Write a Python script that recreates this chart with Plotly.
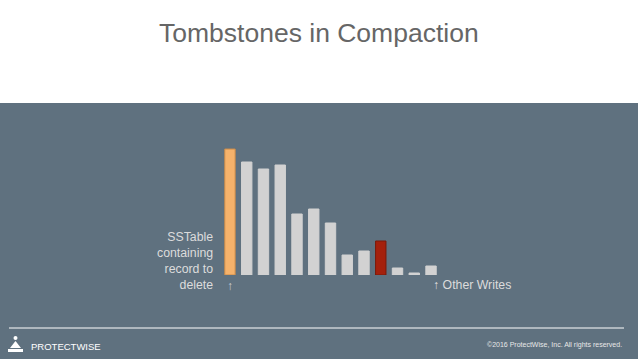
import plotly.graph_objects as go

# Data
categories = [f"SST{i+1}" for i in range(13)]
values = [126, 113, 106, 110, 61, 66, 52, 20, 24, 34, 7, 2, 9]
bar_colors = ["#f5b26b"] + ["#d2d2d2"] * 8 + ["#a4200c"] + ["#d2d2d2"] * 3
line_colors = ["#c98a4a"] + ["#d2d2d2"] * 8 + ["#7a1808"] + ["#d2d2d2"] * 3

W, H = 638, 359
SLATE = "#5f717f"

def py(px):
    return 1 - px / H

def pxx(px):
    return px / W

fig = go.Figure()
fig.add_trace(go.Bar(
    x=list(range(len(categories))), y=values,
    marker=dict(color=bar_colors, line=dict(color=line_colors, width=1)),
    width=0.62, hoverinfo="skip",
))

fig.update_layout(
    width=W, height=H,
    margin=dict(l=0, r=0, t=0, b=0),
    paper_bgcolor="white", plot_bgcolor="rgba(0,0,0,0)",
    showlegend=False,
    xaxis=dict(domain=[pxx(221.6), pxx(439.4)], range=[-0.5, 12.5],
               visible=False, fixedrange=True),
    yaxis=dict(domain=[py(275), py(145)], range=[0, 130],
               visible=False, fixedrange=True),
    font=dict(family="Liberation Sans, Arial, sans-serif"),
)

shapes = [
    dict(type="rect", xref="paper", yref="paper", x0=0, x1=1, y0=0, y1=py(103),
         fillcolor=SLATE, line=dict(width=0), layer="below"),
    dict(type="line", xref="paper", yref="paper", x0=pxx(9), x1=pxx(624),
         y0=py(328), y1=py(328), line=dict(color="white", width=1)),
    # logo icon approximation
    dict(type="circle", xref="paper", yref="paper", x0=pxx(13.5), x1=pxx(17.5),
         y0=py(340), y1=py(336), fillcolor="white", line=dict(width=0)),
    dict(type="path", xref="paper", yref="paper",
         path=f"M {pxx(10)} {py(348)} L {pxx(15.5)} {py(341)} L {pxx(21)} {py(348)} Z",
         fillcolor="white", line=dict(width=0)),
    dict(type="rect", xref="paper", yref="paper", x0=pxx(8), x1=pxx(23),
         y0=py(352), y1=py(349), fillcolor="white", line=dict(width=0)),
]
fig.update_layout(shapes=shapes)

annotations = [
    dict(text="Tombstones in Compaction", xref="paper", yref="paper",
         x=pxx(318.5), y=py(33), showarrow=False, xanchor="center", yanchor="middle",
         font=dict(size=26.5, color="#666666")),
    dict(text="SSTable<br>containing<br>record to<br>delete", xref="paper", yref="paper",
         x=pxx(215), y=py(294), showarrow=False, xanchor="right", yanchor="bottom",
         align="right", font=dict(size=12.3, color="#dcdcdc")),
    dict(text="↑", xref="paper", yref="paper", x=pxx(229.5), y=py(286),
         showarrow=False, xanchor="center", yanchor="middle",
         font=dict(size=12, color="#c8cdd2")),
    dict(text="↑ Other Writes", xref="paper", yref="paper", x=pxx(431), y=py(285),
         showarrow=False, xanchor="left", yanchor="middle",
         font=dict(size=12.3, color="#dcdcdc")),
    dict(text="PROTECTWISE", xref="paper", yref="paper", x=pxx(29), y=py(346),
         showarrow=False, xanchor="left", yanchor="middle",
         font=dict(size=9.5, color="white")),
    dict(text="©2016 ProtectWise, Inc. All rights reserved.", xref="paper", yref="paper",
         x=pxx(624), y=py(345), showarrow=False, xanchor="right", yanchor="middle",
         font=dict(size=7, color="#e8e8e8")),
]
fig.update_layout(annotations=annotations)

fig.write_html("out.html", config={"displayModeBar": False},
               post_script="document.body.style.margin='0';document.body.style.overflow='hidden';")
